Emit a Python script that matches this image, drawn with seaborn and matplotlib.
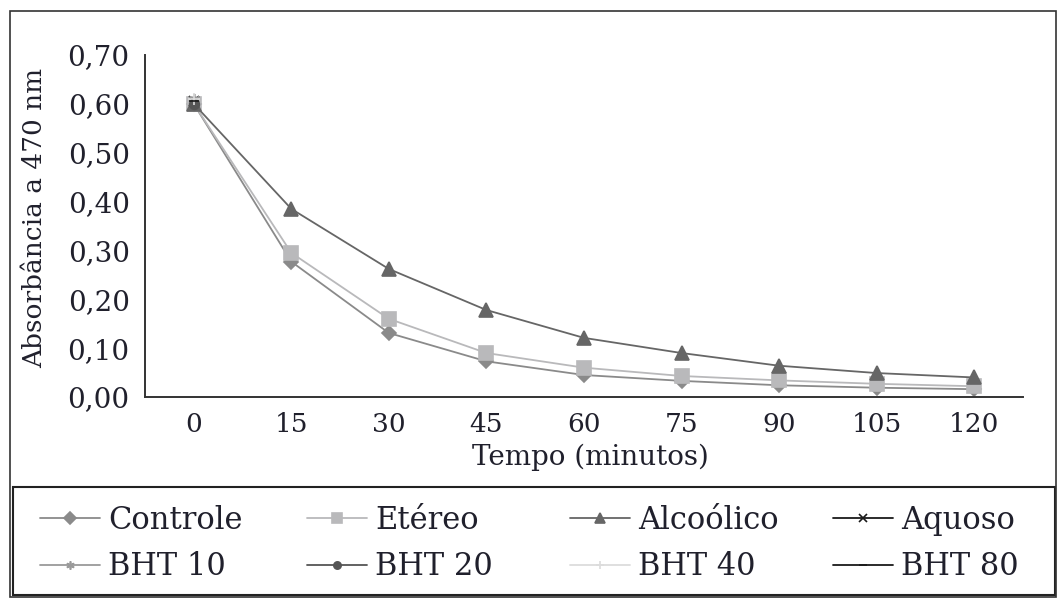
import numpy as np
import pandas as pd
import matplotlib
matplotlib.use('Agg')
import matplotlib.pyplot as plt
from matplotlib.patches import Rectangle
import seaborn as sns

# Dados (absorbância a 470 nm)
tempo = [0, 15, 30, 45, 60, 75, 90, 105, 120]
controle = [0.600, 0.277, 0.131, 0.073, 0.045, 0.033, 0.024, 0.019, 0.016]
etereo = [0.600, 0.295, 0.160, 0.090, 0.060, 0.043, 0.034, 0.027, 0.022]
alcoolico = [0.600, 0.385, 0.262, 0.178, 0.121, 0.090, 0.064, 0.049, 0.040]
# só visíveis em t=0 (sobrepostos)
aquoso = [0.605, np.nan, np.nan, np.nan, np.nan, np.nan, np.nan, np.nan, np.nan]
bht10 = [0.610, np.nan, np.nan, np.nan, np.nan, np.nan, np.nan, np.nan, np.nan]
bht20 = [0.600, np.nan, np.nan, np.nan, np.nan, np.nan, np.nan, np.nan, np.nan]
bht40 = [0.610, np.nan, np.nan, np.nan, np.nan, np.nan, np.nan, np.nan, np.nan]
bht80 = [0.605, np.nan, np.nan, np.nan, np.nan, np.nan, np.nan, np.nan, np.nan]

series = {
    'Controle': controle,
    'Etéreo': etereo,
    'Alcoólico': alcoolico,
    'Aquoso': aquoso,
    'BHT 10': bht10,
    'BHT 20': bht20,
    'BHT 40': bht40,
    'BHT 80': bht80,
}

#Estilo de cada série
estilos = {
    'Controle': ('#8a8a8a', 'D', 7.5),
    'Etéreo': ('#b9b9bb', 's', 10),
    'Alcoólico': ('#666666', '^', 10),
    'Aquoso': ('#1a1a1a', 'x', 7),
    'BHT 10': ('#9a9a9a', (6, 2, 0), 8),
    'BHT 20': ('#555555', 'o', 7),
    'BHT 40': ('#dcdcdc', '+', 8),
    'BHT 80': ('#1a1a1a', '_', 7),
}

sns.set_style('white')
plt.rcParams['font.family'] = ['DejaVu Serif']
cor_texto = '#20202c'
plt.rcParams['text.color'] = cor_texto
plt.rcParams['axes.labelcolor'] = cor_texto

W, H = 1057, 599
fig = plt.figure(figsize=(W / 100, H / 100), dpi=100)
ax = fig.add_axes([145 / W, 1 - 397 / H, 878 / W, 342 / H])

handles = {}
for nome, valores in series.items():
    cor, marcador, tam = estilos[nome]
    df = pd.DataFrame({'Tempo': tempo, 'Abs': valores}).dropna()
    sns.lineplot(data=df, x='Tempo', y='Abs', ax=ax, color=cor, marker=marcador,
                 markersize=tam, markeredgecolor=cor, markeredgewidth=1.2,
                 linewidth=1.3, label=nome, legend=False)
    handles[nome] = ax.lines[-1]

#Eixos
ax.set_xlim(-7.5, 127.5)
ax.set_ylim(0, 0.70)
ax.set_xticks(tempo)
ax.set_xticklabels([str(t) for t in tempo], fontsize=19, color=cor_texto)
ax.set_xticks(np.arange(-7.5, 128, 15), minor=True)
yt = np.arange(0, 0.71, 0.10)
ax.set_yticks(yt)
ax.set_yticklabels([f'{v:.2f}'.replace('.', ',') for v in yt], fontsize=20, color=cor_texto)
ax.tick_params(axis='x', which='major', length=0, pad=11)
ax.tick_params(axis='x', which='minor', length=6, width=1.3, direction='out', color='#333333')
ax.tick_params(axis='y', length=6, width=1.3, direction='out', pad=5, color='#333333')
for s in ['top', 'right']:
    ax.spines[s].set_visible(False)
for s in ['left', 'bottom']:
    ax.spines[s].set_color('#333333')
    ax.spines[s].set_linewidth(1.4)

ax.set_xlabel('Tempo (minutos)', fontsize=20)
ax.set_ylabel('Absorbância a 470 nm', fontsize=19)
ax.xaxis.set_label_coords((590 - 145) / 878, (397 - 444) / 342)
ax.yaxis.set_label_coords((47 - 145) / 878, (397 - 218) / 342)

#Legenda: quatro colunas em posições fixas
colunas = [('Controle', 'BHT 10'), ('Etéreo', 'BHT 20'),
           ('Alcoólico', 'BHT 40'), ('Aquoso', 'BHT 80')]
x_col = [40, 307, 570, 833]
for xc, nomes in zip(x_col, colunas):
    leg = fig.legend([handles[n] for n in nomes], list(nomes), loc='upper left',
                     bbox_to_anchor=(xc / W, 1 - 505 / H), frameon=False,
                     fontsize=22, handlelength=1.95, handletextpad=0.28,
                     markerscale=0.75, borderpad=0, borderaxespad=0,
                     labelspacing=0.5)
    for t in leg.get_texts():
        t.set_color(cor_texto)

#Caixa da legenda e moldura externa
fig.patches.append(Rectangle((13 / W, 1 - 595 / H), 1042 / W, 108 / H,
                             transform=fig.transFigure, fill=False,
                             edgecolor='#222222', linewidth=1.5))
fig.patches.append(Rectangle((10 / W, 1 - 597 / H), 1046 / W, 586 / H,
                             transform=fig.transFigure, fill=False,
                             edgecolor='#333333', linewidth=1.2))

plt.savefig('out.png', dpi=100)
